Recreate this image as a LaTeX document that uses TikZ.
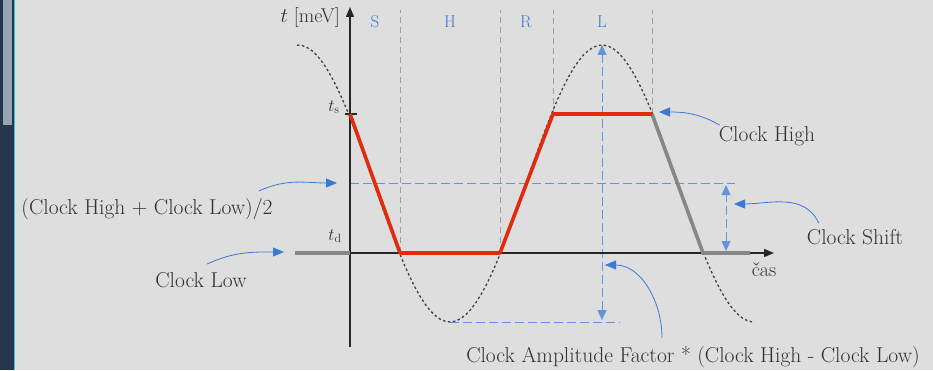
\documentclass[tikz,border=0pt]{standalone}
\usepackage{tikz}
\usetikzlibrary{arrows.meta, positioning}
\usepackage{xcolor}
\definecolor{bgGrey}{RGB}{222,222,222}
\definecolor{noteBlue}{RGB}{58,122,212}
\definecolor{clockRed}{RGB}{224,44,12}
\definecolor{clockGrey}{RGB}{135,135,135}
\definecolor{textGrey}{RGB}{50,50,50}
\definecolor{frameDark}{RGB}{36,54,78}
\definecolor{frameLight}{RGB}{150,164,180}
\definecolor{frameCyan}{RGB}{60,190,230}

\begin{document}
\begin{tikzpicture}[
    x=1pt, y=1pt,
    noteText/.style={text=textGrey, font=\fontsize{21.5}{25}\selectfont, inner sep=1pt},
    phaseText/.style={text=noteBlue, font=\fontsize{17}{20}\selectfont, inner sep=0pt},
    axisText/.style={text=textGrey, font=\fontsize{20}{24}\selectfont, inner sep=0pt},
    axisArrow/.style={-{Triangle[length=10pt,width=8pt]}, line width=1.4pt, black!85},
    clockLine/.style={line width=3.6pt, clockRed},
    restLine/.style={line width=3.6pt, clockGrey},
    phaseLine/.style={gray!75, line width=0.8pt, dash pattern=on 6pt off 4pt},
    blueDash/.style={noteBlue!80, line width=0.8pt, dash pattern=on 9pt off 4pt},
    blueTips/.style={{Triangle[length=10pt,width=9pt]}-{Triangle[length=10pt,width=9pt]}},
    noteArrow/.style={-{Triangle[length=11pt,width=9pt]}, noteBlue, line width=0.8pt},
    sineLine/.style={black!75, line width=1.3pt, dash pattern=on 2.5pt off 2.5pt}
]
    % Background and window frame
    \fill[bgGrey] (0,0) rectangle (933,370);
    \useasboundingbox (0,0) rectangle (933,370);
    \fill[frameDark] (0,0) rectangle (14,370);
    \fill[frameLight] (3,245) rectangle (12,370);
    \draw[frameCyan, line width=1.5pt] (14.5,0) -- (14.5,370);

    % Key points of the clock signal
    \coordinate (origin) at (350,117);
    \coordinate (yTop) at (350,363);
    \coordinate (yBot) at (350,23);
    \coordinate (xEnd) at (774,117);
    \coordinate (lowStart) at (295,117);
    \coordinate (ts) at (350,256);
    \coordinate (fallEnd) at (400,117);
    \coordinate (riseStart) at (500,117);
    \coordinate (riseEnd) at (553,256);
    \coordinate (highEnd) at (652,256);
    \coordinate (fall2End) at (703,117);
    \coordinate (lowEnd) at (750,117);

    % Phase borders
    \draw[phaseLine] (fallEnd) -- (400,360);
    \draw[phaseLine] (riseStart) -- (500,360);
    \draw[phaseLine] (riseEnd) -- (553,360);
    \draw[phaseLine] (highEnd) -- (652,360);

    % Phase names
    \node[phaseText] (phaseS) at (375,348) {S};
    \node[phaseText] (phaseH) at (450,348) {H};
    \node[phaseText] (phaseR) at (526,348) {R};
    \node[phaseText] (phaseL) at (602,348) {L};

    % Guide lines
    \coordinate (midLeft) at (350,187);
    \coordinate (midRight) at (735,187);
    \coordinate (ampTop) at (602,325);
    \coordinate (ampBot) at (602,50);
    \coordinate (troughLeft) at (450,48);
    \coordinate (troughRight) at (620,48);
    \coordinate (shiftTop) at (726,185);
    \coordinate (shiftBot) at (726,119);
    \draw[blueDash] (midLeft) -- (midRight);
    \draw[blueDash] (troughLeft) -- (troughRight);
    \draw[blueDash, blueTips] (ampBot) -- (ampTop);
    \draw[blueDash, blueTips] (shiftBot) -- (shiftTop);

    % Sine
    \draw[sineLine] plot[domain=297:752, samples=90] (\x, {186.5+138.5*cos((\x-602)/304*360)});

    % Axes
    \draw[axisArrow] (yBot) -- (yTop);
    \draw[axisArrow] (origin) -- (xEnd);
    \draw[line width=1.2pt, black!85] ([xshift=-5pt]ts) -- ([xshift=7pt]ts);
    \node[axisText, anchor=east] (yLabel) at (340,352) {$t$ [meV]};
    \node[axisText] (xLabel) at (764,100) {čas};
    \node[axisText, font=\fontsize{17}{20}\selectfont] (tsLabel) at (334,263) {$t_{\mathrm{s}}$};
    \node[axisText, font=\fontsize{17}{20}\selectfont] (tdLabel) at (335,134) {$t_{\mathrm{d}}$};

    % Clock signal
    \draw[restLine] (lowStart) -- (origin);
    \draw[restLine] (highEnd) -- (fall2End) -- (lowEnd);
    \draw[clockLine, line join=round] (ts) -- (fallEnd) -- (riseStart) -- (riseEnd) -- (highEnd);

    % Annotations
    \node[noteText] (highNote) at (767,234) {Clock High};
    \node[noteText] (shiftNote) at (855,133) {Clock Shift};
    \node[noteText] (lowNote) at (201,90) {Clock Low};
    \node[noteText] (midNote) at (147,161) {(Clock High + Clock Low)/2};
    \node[noteText] (ampNote) at (693,13) {Clock Amplitude Factor * (Clock High - Clock Low)};

    \coordinate (highTip) at (659,258);
    \coordinate (shiftTip) at (734,166);
    \coordinate (lowTip) at (284,118);
    \coordinate (midTip) at (337,187);
    \coordinate (ampTip) at (605,105);

    \draw[noteArrow] ([xshift=2pt]highNote.north west) to[out=150,in=0] (highTip);
    \draw[noteArrow] ([shift={(13,5)}]shiftNote.north west) to[out=115,in=0] (shiftTip);
    \draw[noteArrow] ([shift={(6,7)}]lowNote.north) to[out=25,in=180] (lowTip);
    \draw[noteArrow] ([shift={(-15,6)}]midNote.north east) to[out=25,in=180] (midTip);
    \draw[noteArrow] ([shift={(-31,7)}]ampNote.north) to[out=90,in=0] (ampTip);
\end{tikzpicture}
\end{document}
